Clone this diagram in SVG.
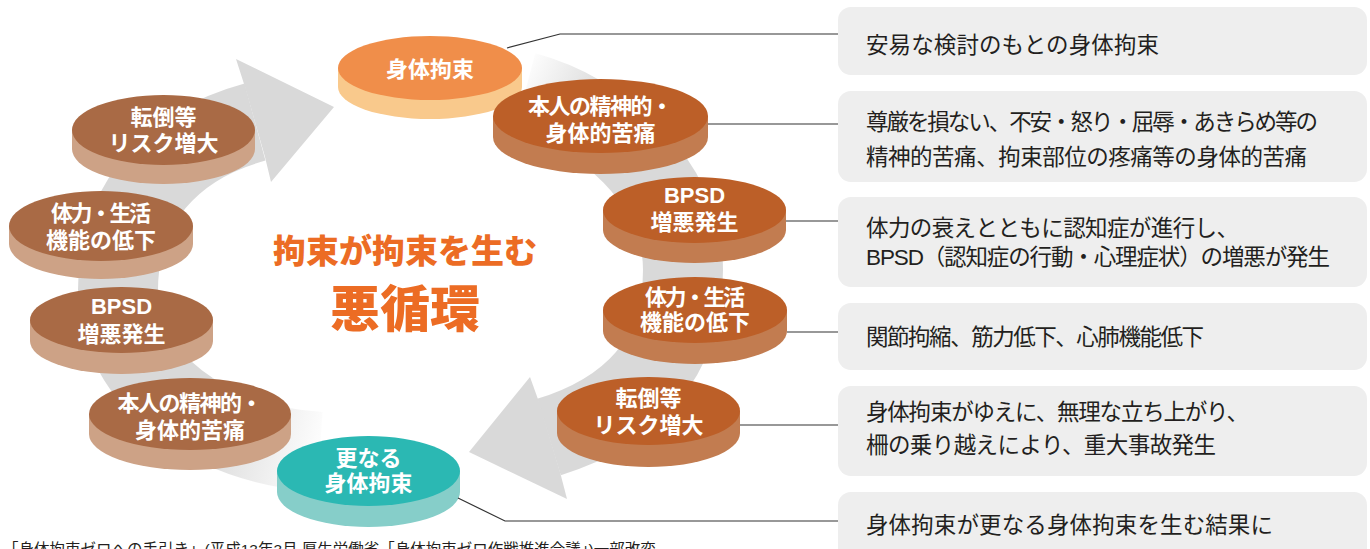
<svg xmlns="http://www.w3.org/2000/svg" width="1370" height="549" viewBox="0 0 1370 549">
  <style>
    .lbl { font-family: "Liberation Sans", "Noto Sans CJK JP", sans-serif; font-weight: bold; font-size: 22px; fill: #ffffff; text-anchor: middle; }
    .desc { font-family: "Liberation Sans", "Noto Sans CJK JP", sans-serif; font-size: 22.5px; fill: #231f20; }
    .box { fill: #eeeeee; }
    .title { font-family: "Noto Sans CJK JP", "Noto Sans", sans-serif; font-weight: 900; fill: #ec6c24; text-anchor: middle; }
    .cap { font-family: "Liberation Sans", "Noto Sans CJK JP", sans-serif; font-size: 15.5px; fill: #231f20; }
    .top-o { fill: #f08e4a; } .side-o { fill: #f9c98c; }
    .top-r { fill: #bc5f28; } .side-r { fill: #c27c50; }
    .top-b { fill: #a96a45; } .side-b { fill: #cda286; }
    .top-t { fill: #2bb8b3; } .side-t { fill: #86cec9; }
    .lead { fill: none; stroke: #333333; stroke-width: 1.2; }
    .band { fill: none; stroke-width: 80; stroke-linecap: butt; }
    .head { fill: #d9d9d9; }
  </style>
  <defs>
    <linearGradient id="fadeL" gradientUnits="userSpaceOnUse" x1="325" y1="450" x2="205" y2="420">
      <stop offset="0" stop-color="#d9d9d9" stop-opacity="0"/>
      <stop offset="1" stop-color="#d9d9d9" stop-opacity="1"/>
    </linearGradient>
    <linearGradient id="fadeR" gradientUnits="userSpaceOnUse" x1="515" y1="80" x2="590" y2="120">
      <stop offset="0" stop-color="#d9d9d9" stop-opacity="0"/>
      <stop offset="1" stop-color="#d9d9d9" stop-opacity="1"/>
    </linearGradient>
  </defs>

  <rect width="1370" height="549" fill="#ffffff"/>

  <!-- cycle arrows -->
  <g id="cycle-arrows">
    <path class="band" stroke="url(#fadeL)" d="M320,452 C210,445 118,380 118,290 C118,205 170,145 255,122"/>
    <polygon class="head" points="245,87 236,59 334,107 271,182 265,157"/>
    <path class="band" stroke="url(#fadeR)" d="M525,92 C600,112 683,180 683,270 C683,360 630,412 549,437"/>
    <polygon class="head" points="539,402 530,377 469,452 567,499 560,472"/>
  </g>

  <!-- centre title -->
  <g id="title">
    <text class="title" x="405" y="263" font-size="33">拘束が拘束を生む</text>
    <text class="title" x="405" y="327" font-size="50">悪循環</text>
  </g>

  <!-- nodes -->
  <g id="node-restraint">
    <path class="side-o" d="M338,68 V87 A92,32 0 0 0 522,87 V68 Z"/>
    <ellipse class="top-o" cx="430" cy="68" rx="92" ry="32"/>
    <text class="lbl" x="430" y="77">身体拘束</text>
  </g>
  <g id="node-pain-r">
    <path class="side-r" d="M493,116 V137 A107.5,37 0 0 0 708,137 V116 Z"/>
    <ellipse class="top-r" cx="600.5" cy="116" rx="107.5" ry="37"/>
    <text class="lbl"><tspan x="600.5" y="114" textLength="145" lengthAdjust="spacing">本人の精神的・</tspan><tspan x="600.5" y="141">身体的苦痛</tspan></text>
  </g>
  <g id="node-fall-l">
    <path class="side-b" d="M72,130 V149 A91.5,35 0 0 0 255,149 V130 Z"/>
    <ellipse class="top-b" cx="163.5" cy="130" rx="91.5" ry="35"/>
    <text class="lbl"><tspan x="163.5" y="125">転倒等</tspan><tspan x="163.5" y="151">リスク増大</tspan></text>
  </g>
  <g id="node-bpsd-r">
    <path class="side-r" d="M603,210 V230 A91.5,33 0 0 0 786,230 V210 Z"/>
    <ellipse class="top-r" cx="694.5" cy="210" rx="91.5" ry="33"/>
    <text class="lbl"><tspan x="694.5" y="203">BPSD</tspan><tspan x="694.5" y="230">増悪発生</tspan></text>
  </g>
  <g id="node-func-l">
    <path class="side-b" d="M9,226 V244 A92,35 0 0 0 193,244 V226 Z"/>
    <ellipse class="top-b" cx="101" cy="226" rx="92" ry="35"/>
    <text class="lbl"><tspan x="101" y="221" textLength="100" lengthAdjust="spacing">体力・生活</tspan><tspan x="101" y="248">機能の低下</tspan></text>
  </g>
  <g id="node-func-r">
    <path class="side-r" d="M603,310 V331 A92,33 0 0 0 787,331 V310 Z"/>
    <ellipse class="top-r" cx="695" cy="310" rx="92" ry="33"/>
    <text class="lbl"><tspan x="695" y="305" textLength="100" lengthAdjust="spacing">体力・生活</tspan><tspan x="695" y="330">機能の低下</tspan></text>
  </g>
  <g id="node-bpsd-l">
    <path class="side-b" d="M30,320 V341 A91.5,33 0 0 0 213,341 V320 Z"/>
    <ellipse class="top-b" cx="121.5" cy="320" rx="91.5" ry="33"/>
    <text class="lbl"><tspan x="121.5" y="314">BPSD</tspan><tspan x="121.5" y="342">増悪発生</tspan></text>
  </g>
  <g id="node-fall-r">
    <path class="side-r" d="M557,411 V433 A91.5,34 0 0 0 740,433 V411 Z"/>
    <ellipse class="top-r" cx="648.5" cy="411" rx="91.5" ry="34"/>
    <text class="lbl"><tspan x="648.5" y="406">転倒等</tspan><tspan x="648.5" y="433">リスク増大</tspan></text>
  </g>
  <g id="node-pain-l">
    <path class="side-b" d="M89,414 V434 A101,36 0 0 0 291,434 V414 Z"/>
    <ellipse class="top-b" cx="190" cy="414" rx="101" ry="36"/>
    <text class="lbl"><tspan x="190" y="411" textLength="145" lengthAdjust="spacing">本人の精神的・</tspan><tspan x="190" y="438">身体的苦痛</tspan></text>
  </g>
  <g id="node-more">
    <path class="side-t" d="M277,471 V492 A91.5,35 0 0 0 460,492 V471 Z"/>
    <ellipse class="top-t" cx="368.5" cy="471" rx="91.5" ry="35"/>
    <text class="lbl"><tspan x="368.5" y="466">更なる</tspan><tspan x="368.5" y="491">身体拘束</tspan></text>
  </g>

  <!-- connectors -->
  <g id="connectors">
    <polyline class="lead" points="507,48 560,34 838,34"/>
    <line class="lead" x1="708" y1="124" x2="838" y2="124"/>
    <line class="lead" x1="786" y1="221" x2="838" y2="221"/>
    <line class="lead" x1="787" y1="332" x2="838" y2="332"/>
    <line class="lead" x1="740" y1="425" x2="838" y2="425"/>
    <polyline class="lead" points="458,498 505,521 838,521"/>
  </g>

  <!-- description boxes -->
  <g id="desc-1">
    <rect class="box" x="838" y="7" width="529" height="68" rx="13"/>
    <text class="desc" x="866" y="53" textLength="293" lengthAdjust="spacing">安易な検討のもとの身体拘束</text>
  </g>
  <g id="desc-2">
    <rect class="box" x="838" y="91" width="529" height="91" rx="13"/>
    <text class="desc"><tspan x="866" y="130" textLength="452" lengthAdjust="spacing">尊厳を損ない、不安・怒り・屈辱・あきらめ等の</tspan><tspan x="866" y="165" textLength="441" lengthAdjust="spacing">精神的苦痛、拘束部位の疼痛等の身体的苦痛</tspan></text>
  </g>
  <g id="desc-3">
    <rect class="box" x="838" y="197" width="529" height="90" rx="13"/>
    <text class="desc"><tspan x="866" y="236" textLength="373" lengthAdjust="spacing">体力の衰えとともに認知症が進行し、</tspan><tspan x="866" y="265" textLength="464" lengthAdjust="spacing">BPSD（認知症の行動・心理症状）の増悪が発生</tspan></text>
  </g>
  <g id="desc-4">
    <rect class="box" x="838" y="303" width="529" height="67" rx="13"/>
    <text class="desc" x="866" y="345" textLength="338" lengthAdjust="spacing">関節拘縮、筋力低下、心肺機能低下</text>
  </g>
  <g id="desc-5">
    <rect class="box" x="838" y="386" width="529" height="90" rx="13"/>
    <text class="desc"><tspan x="866" y="420" textLength="383" lengthAdjust="spacing">身体拘束がゆえに、無理な立ち上がり、</tspan><tspan x="866" y="453" textLength="350" lengthAdjust="spacing">柵の乗り越えにより、重大事故発生</tspan></text>
  </g>
  <g id="desc-6">
    <rect class="box" x="838" y="492" width="529" height="80" rx="13"/>
    <text class="desc" x="866" y="533" textLength="407" lengthAdjust="spacing">身体拘束が更なる身体拘束を生む結果に</text>
  </g>

  <text class="cap" x="3" y="555">「身体拘束ゼロへの手引き」(平成13年3月 厚生労働省「身体拘束ゼロ作戦推進会議」)一部改変</text>
</svg>
